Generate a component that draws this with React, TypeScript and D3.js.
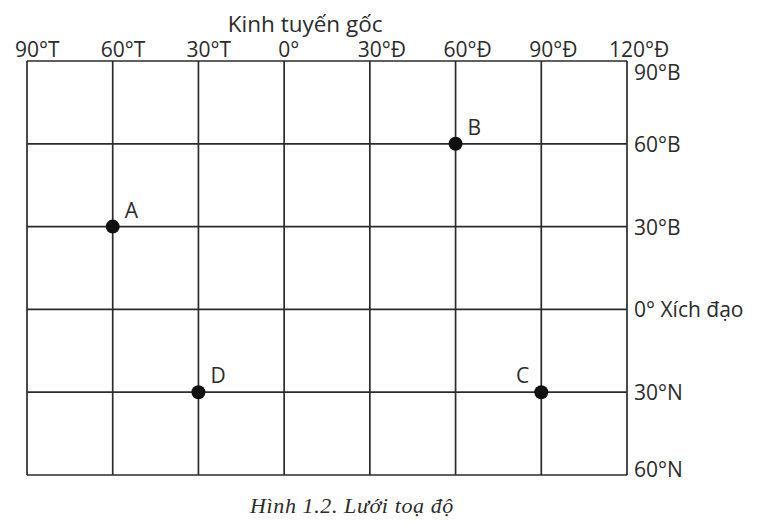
import * as d3 from "d3";

const longitudes = [-90, -60, -30, 0, 30, 60, 90, 120];
const lonLabels = ["90°T", "60°T", "30°T", "0°", "30°Đ", "60°Đ", "90°Đ", "120°Đ"];
const latitudes = [90, 60, 30, 0, -30, -60];
const latLabels = ["90°B", "60°B", "30°B", "0° Xích đạo", "30°N", "60°N"];

const pointNames = ["A", "B", "C", "D"];
const pointLon = [-60, 60, 90, -30];
const pointLat = [30, 60, -30, -30];

const WIDTH = 769;
const HEIGHT = 526;
const FONT = "'Open Sans', 'Noto Sans', sans-serif";
const INK = "#2b2b2b";

export default function App() {
  const x = d3.scaleLinear().domain([-90, 120]).range([27, 627]);
  const y = d3.scaleLinear().domain([90, -60]).range([61, 475]);

  const digitW = 12;
  const top = y(90);
  const bottom = y(-60);

  return (
    <svg
      width={WIDTH}
      height={HEIGHT}
      style={{ position: "absolute", left: 0, top: 0, background: "#fff" }}
    >
      {/* meridians */}
      {longitudes.map((lon) => (
        <line
          key={"m" + lon}
          x1={x(lon)}
          x2={x(lon)}
          y1={top}
          y2={bottom}
          stroke={INK}
          strokeWidth={1.7}
        />
      ))}
      {/* parallels */}
      {latitudes.map((lat) => (
        <line
          key={"p" + lat}
          x1={x(-90)}
          x2={x(120)}
          y1={y(lat)}
          y2={y(lat)}
          stroke={INK}
          strokeWidth={1.7}
        />
      ))}

      <text x={x(0) + 21} y={32} textAnchor="middle" fontFamily={FONT} fontSize={22.5} fill={INK}>
        Kinh tuyến gốc
      </text>

      {longitudes.map((lon, i) => {
        const num = lonLabels[i].split("°")[0];
        return (
          <text
            key={"lx" + lon}
            x={x(lon) - (num.length * digitW) / 2}
            y={57}
            fontFamily={FONT}
            fontSize={21}
            fill={INK}
          >
            {lonLabels[i]}
          </text>
        );
      })}

      {latitudes.map((lat, i) => (
        <text
          key={"ly" + lat}
          x={634}
          y={Math.max(top + 19, Math.min(bottom + 2, y(lat) + 8))}
          fontFamily={FONT}
          fontSize={21}
          fill={INK}
        >
          {latLabels[i]}
        </text>
      ))}

      {pointNames.map((name, i) => {
        const px = x(pointLon[i]);
        const py = y(pointLat[i]);
        const left = name === "C";
        return (
          <g key={name}>
            <circle cx={px} cy={py} r={7} fill="#111" />
            <text
              x={left ? px - 12 : px + 12}
              y={py - 9}
              textAnchor={left ? "end" : "start"}
              fontFamily={FONT}
              fontSize={21}
              fill={INK}
            >
              {name}
            </text>
          </g>
        );
      })}

      <text
        x={352}
        y={513}
        textAnchor="middle"
        fontFamily="'Liberation Serif', 'DejaVu Serif', serif"
        fontStyle="italic"
        fontSize={22}
        letterSpacing={0.6}
        fill={INK}
      >
        Hình 1.2. Lưới toạ độ
      </text>
    </svg>
  );
}
